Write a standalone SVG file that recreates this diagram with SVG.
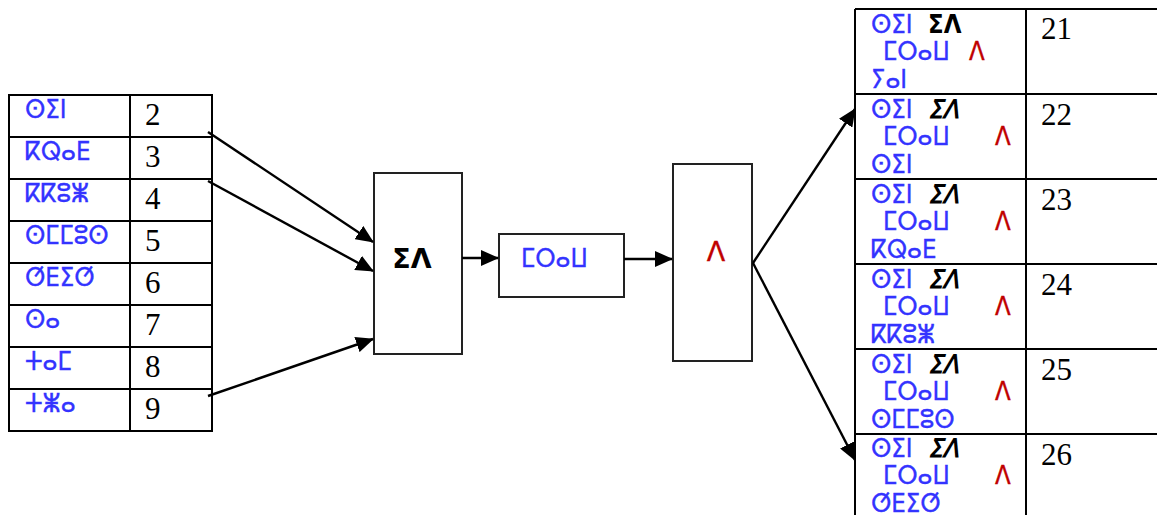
<svg xmlns="http://www.w3.org/2000/svg" width="1157" height="515" viewBox="0 0 1157 515">
<style>
.tb{fill:none;stroke:#000;stroke-width:2}
.bx{fill:#fff;stroke:#222;stroke-width:2}
.cn{fill:none;stroke:#000;stroke-width:2.4}
.tf{font-family:"DejaVu Sans Condensed","DejaVu Sans","Noto Sans",sans-serif;font-size:25.5px;stroke-width:0.35}
.bl{fill:#3333ff;stroke:#3333ff}
.rd{fill:#c00000;stroke:#c00000}
.bk{fill:#000;font-weight:bold}
.it{font-style:italic}
.nm{font-family:"Liberation Serif","Times New Roman",serif;font-size:31px;fill:#000}
</style>
<defs>
<marker id="ah" markerUnits="userSpaceOnUse" markerWidth="18" markerHeight="16" refX="17" refY="8" orient="auto">
<path d="M0,0 L18,8 L0,16 Z" fill="#000"/>
</marker>
</defs>
<rect width="1157" height="515" fill="#fff"/>

<g id="left-table">
<path class="tb" d="M9,95 H212 V431 H9 Z M130,95 V431 M9,137 H212 M9,179 H212 M9,221 H212 M9,263 H212 M9,305 H212 M9,347 H212 M9,389 H212"/>
<g class="tf bl">
<text x="25" y="118">ⵙⵉⵏ</text>
<text x="25" y="160">ⴽⵕⴰⴹ</text>
<text x="25" y="202">ⴽⴽⵓⵥ</text>
<text x="25" y="244">ⵙⵎⵎⵓⵙ</text>
<text x="25" y="286">ⵚⴹⵉⵚ</text>
<text x="25" y="328">ⵙⴰ</text>
<text x="25" y="370">ⵜⴰⵎ</text>
<text x="25" y="412">ⵜⵥⴰ</text>
</g>
<g class="nm">
<text x="145" y="125">2</text>
<text x="145" y="167">3</text>
<text x="145" y="209">4</text>
<text x="145" y="251">5</text>
<text x="145" y="293">6</text>
<text x="145" y="335">7</text>
<text x="145" y="377">8</text>
<text x="145" y="419">9</text>
</g>
</g>

<g id="node-id">
<rect class="bx" x="374" y="173" width="88" height="181"/>
<text class="tf bk" x="412" y="268" text-anchor="middle" style="font-family:'DejaVu Sans',sans-serif;font-size:27px">ⵉⴷ</text>
</g>
<g id="node-mraw">
<rect class="bx" x="499" y="234" width="125" height="63"/>
<text class="tf bl" x="521" y="267">ⵎⵔⴰⵡ</text>
</g>
<g id="node-d">
<rect class="bx" x="673" y="164" width="79" height="197"/>
<text class="tf rd" x="716" y="261" text-anchor="middle" style="font-family:'DejaVu Sans',sans-serif;font-size:27px">ⴷ</text>
</g>

<g id="right-table">
<path class="tb" d="M855,9 H1160 M855,9 V520 M1026,9 V520 M855,94 H1160 M855,179 H1160 M855,264 H1160 M855,349 H1160 M855,434 H1160"/>
<g id="cell-21">
<text class="tf bl" x="871" y="33">ⵙⵉⵏ</text>
<text class="tf bk" x="928" y="33">ⵉⴷ</text>
<text class="tf bl" x="883" y="60">ⵎⵔⴰⵡ</text>
<text class="tf rd" x="969" y="60">ⴷ</text>
<text class="tf bl" x="871" y="88">ⵢⴰⵏ</text>
<text class="nm" x="1041" y="39">21</text>
</g>
<g id="cell-22">
<text class="tf bl" x="871" y="118">ⵙⵉⵏ</text>
<text class="tf bk it" x="928" y="118">ⵉⴷ</text>
<text class="tf bl" x="883" y="145">ⵎⵔⴰⵡ</text>
<text class="tf rd" x="995" y="145">ⴷ</text>
<text class="tf bl" x="871" y="173">ⵙⵉⵏ</text>
<text class="nm" x="1041" y="125">22</text>
</g>
<g id="cell-23">
<text class="tf bl" x="871" y="203">ⵙⵉⵏ</text>
<text class="tf bk it" x="928" y="203">ⵉⴷ</text>
<text class="tf bl" x="883" y="230">ⵎⵔⴰⵡ</text>
<text class="tf rd" x="995" y="230">ⴷ</text>
<text class="tf bl" x="871" y="258">ⴽⵕⴰⴹ</text>
<text class="nm" x="1041" y="210">23</text>
</g>
<g id="cell-24">
<text class="tf bl" x="871" y="288">ⵙⵉⵏ</text>
<text class="tf bk it" x="928" y="288">ⵉⴷ</text>
<text class="tf bl" x="883" y="315">ⵎⵔⴰⵡ</text>
<text class="tf rd" x="995" y="315">ⴷ</text>
<text class="tf bl" x="871" y="343">ⴽⴽⵓⵥ</text>
<text class="nm" x="1041" y="295">24</text>
</g>
<g id="cell-25">
<text class="tf bl" x="871" y="373">ⵙⵉⵏ</text>
<text class="tf bk it" x="928" y="373">ⵉⴷ</text>
<text class="tf bl" x="883" y="400">ⵎⵔⴰⵡ</text>
<text class="tf rd" x="995" y="400">ⴷ</text>
<text class="tf bl" x="871" y="428">ⵙⵎⵎⵓⵙ</text>
<text class="nm" x="1041" y="380">25</text>
</g>
<g id="cell-26">
<text class="tf bl" x="871" y="457">ⵙⵉⵏ</text>
<text class="tf bk it" x="928" y="457">ⵉⴷ</text>
<text class="tf bl" x="883" y="484">ⵎⵔⴰⵡ</text>
<text class="tf rd" x="995" y="484">ⴷ</text>
<text class="tf bl" x="871" y="512">ⵚⴹⵉⵚ</text>
<text class="nm" x="1041" y="465">26</text>
</g>
</g>

<g id="connectors">
<line class="cn" x1="208" y1="132" x2="373" y2="242" marker-end="url(#ah)"/>
<line class="cn" x1="208" y1="181" x2="373" y2="271" marker-end="url(#ah)"/>
<line class="cn" x1="208" y1="396" x2="373" y2="339" marker-end="url(#ah)"/>
<line class="cn" x1="462" y1="258" x2="498" y2="258" marker-end="url(#ah)"/>
<line class="cn" x1="624" y1="259" x2="672" y2="259" marker-end="url(#ah)"/>
<line class="cn" x1="753" y1="263" x2="855" y2="109" marker-end="url(#ah)"/>
<line class="cn" x1="753" y1="263" x2="855" y2="460" marker-end="url(#ah)"/>
</g>
</svg>
